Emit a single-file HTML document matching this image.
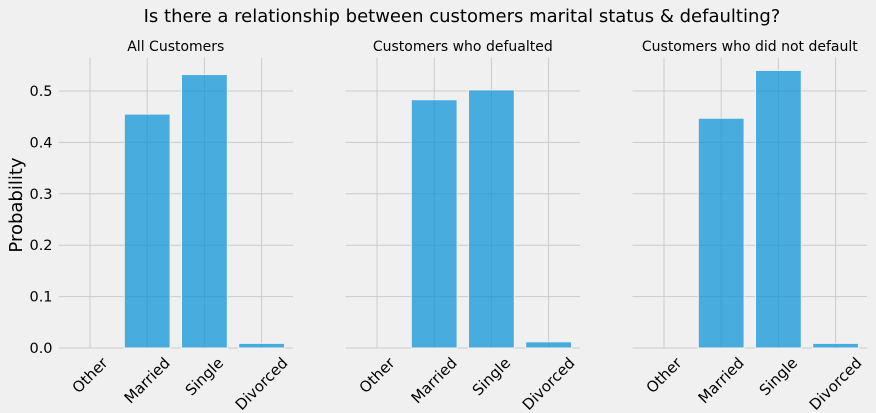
<!DOCTYPE html>
<html><head><meta charset="utf-8"><style>
html,body{margin:0;padding:0;background:#f0f0f0;}
svg{display:block;font-family:"DejaVu Sans","Liberation Sans",sans-serif;}
</style></head><body>
<svg id="c" width="876" height="413" viewBox="0 0 876 413">
<rect width="876" height="413" fill="#f0f0f0"/>
<text x="462" y="22" text-anchor="middle" font-size="18" fill="#000">Is there a relationship between customers marital status &amp; defaulting?</text>
<text x="22" y="205" text-anchor="middle" font-size="18" transform="rotate(-90 22 205)">Probability</text>
</svg>
<script>
const categories = ["Other","Married","Single","Divorced"];
const panelTitles = ["All Customers","Customers who defualted","Customers who did not default"];
const allValues = [0.0, 0.455, 0.532, 0.009];
const defaultedValues = [0.0, 0.483, 0.502, 0.012];
const notDefaultedValues = [0.0, 0.447, 0.540, 0.009];
const yTicks = [0.0, 0.1, 0.2, 0.3, 0.4, 0.5];
const yTickLabels = ["0.0","0.1","0.2","0.3","0.4","0.5"];

const series = [allValues, defaultedValues, notDefaultedValues];
const svg = document.getElementById('c');
const NS = 'http://www.w3.org/2000/svg';
function mk(tag, attrs, parent){const e=document.createElementNS(NS,tag);for(const k in attrs)e.setAttribute(k,attrs[k]);(parent||svg).appendChild(e);return e;}
const y0=348, pxPerUnit=514, yMax=0.565, step=57.2, xMin=-0.55, xMax=3.55;
function yScale(v){return y0 - v*pxPerUnit;}
const panelOffsets=[90,377,664];
series.forEach((vals,p)=>{
  const base=panelOffsets[p];
  const xScale=i=>base+i*step;
  const g=mk('g',{});
  
  
  const left=xScale(xMin), right=xScale(xMax), top=yScale(yMax);
  yTicks.forEach((t,k)=>{
    const l=mk('line',{x1:left,x2:right,y1:yScale(t),y2:yScale(t),stroke:'#cbcbcb','stroke-width':1},g);
    
    
    if(p===0){
      const tx=mk('text',{x:left-6,y:yScale(t)+5,'text-anchor':'end','font-size':14.5},g);
      tx.textContent=yTickLabels[k];
      
      
    }
  });
  categories.forEach((c,i)=>{
    const l=mk('line',{x1:xScale(i),x2:xScale(i),y1:top,y2:y0,stroke:'#cbcbcb','stroke-width':1},g);
    
    
  });
  categories.forEach((c,i)=>{
    const v=vals[i];
    if(v>0){
      const b=mk('rect',{x:xScale(i)-step*0.4,y:yScale(v),width:step*0.8,height:y0-yScale(v),fill:'#008fd5','fill-opacity':0.7,stroke:'#f0f0f0','stroke-width':1},g);
      
      
    }
    const t=mk('text',{'font-size':15,'text-anchor':'middle','dominant-baseline':'central'},g);
    t.textContent=c;
    
    
    const w=t.getComputedTextLength();
    const cy=355+(w*0.707+15*0.707)/2;
    t.setAttribute('x',xScale(i));t.setAttribute('y',cy);
    t.setAttribute('transform','rotate(-45 '+xScale(i)+' '+cy+')');
  });
  const tt=mk('text',{x:(left+right)/2,y:51,'text-anchor':'middle','font-size':14},g);
  tt.textContent=panelTitles[p];
  
  
});
</script>
</body></html>
